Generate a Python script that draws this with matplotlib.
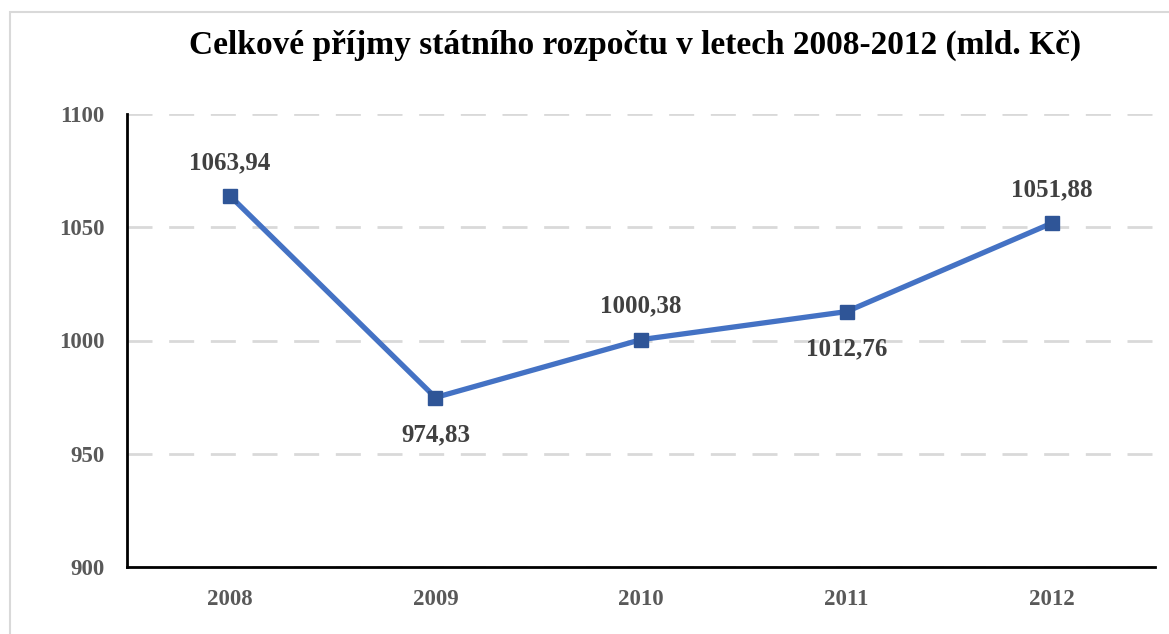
import matplotlib.pyplot as plt
from matplotlib.patches import Rectangle

years = ["2008", "2009", "2010", "2011", "2012"]
prijmy = [1063.94, 974.83, 1000.38, 1012.76, 1051.88]
labels = ["1063,94", "974,83", "1000,38", "1012,76", "1051,88"]
label_pos = ["above", "below", "above", "below", "above"]

plt.rcParams['font.family'] = ['Liberation Serif', 'DejaVu Serif']

fig = plt.figure(figsize=(11.69, 6.34), dpi=100)
ax = fig.add_axes([127/1169, 1-567/634, (1155-127)/1169, (567-114)/634])

# chart border like the Excel frame
fig.patches.append(Rectangle((10/1169, -0.1), 1.2, 1 - 12/634 + 0.1, transform=fig.transFigure,
                             fill=False, edgecolor='#D9D9D9', linewidth=1.5))

x = list(range(len(years)))
ax.plot(x, prijmy, color='#4472C4', linewidth=3.8, marker='s', markersize=10,
        markerfacecolor='#2F5597', markeredgecolor='#2F5597', zorder=3)

for xi, val, lab, pos in zip(x, prijmy, labels, label_pos):
    off = 24 if pos == "above" else -27
    ax.annotate(lab, (xi, val), xytext=(0, off), textcoords='offset points',
                ha='center', va='center', fontsize=18, fontweight='bold', color='#404040')

ax.set_xlim(-0.5, 4.5)
ax.set_ylim(900, 1100)
ax.set_yticks([900, 950, 1000, 1050, 1100])
ax.set_xticks(x)
ax.set_xticklabels(years)
ax.yaxis.grid(True, color='#D9D9D9', linewidth=2, linestyle=(0, (9, 6)))
ax.set_axisbelow(True)

for s in ['top', 'right']:
    ax.spines[s].set_visible(False)
for s in ['left', 'bottom']:
    ax.spines[s].set_color('black')
    ax.spines[s].set_linewidth(2)

ax.tick_params(axis='both', length=0, labelsize=16.5, labelcolor='#595959')
ax.tick_params(axis='y', pad=16)
ax.tick_params(axis='x', pad=16)
for t in ax.get_xticklabels() + ax.get_yticklabels():
    t.set_fontweight('bold')

fig.text(635/1169, 1-45/634, "Celkové příjmy státního rozpočtu v letech 2008-2012 (mld. Kč)",
         ha='center', va='center', fontsize=24, fontweight='bold', color='black')

fig.savefig('out.png', dpi=100)
